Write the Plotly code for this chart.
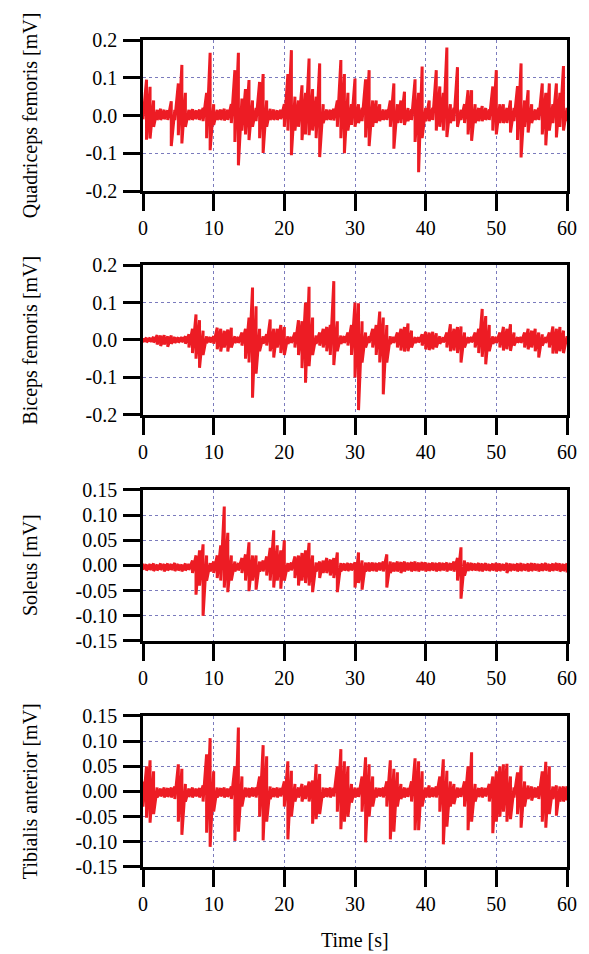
import numpy as np
import plotly.graph_objects as go

# ---------------- data (envelope of each EMG trace, sampled every 0.5 s) ----------------
TIME = np.arange(0, 60.5, 0.5)

QUAD_HI = [0.01, 0.095, 0.076, 0.04, 0.015, 0.018, 0.015, 0.014, 0.038, 0.015,
           0.085, 0.134, 0.06, 0.015, 0.017, 0.014, 0.016, 0.02, 0.06, 0.166,
           0.03, 0.015, 0.016, 0.018, 0.015, 0.03, 0.12, 0.166, 0.045, 0.07,
           0.094, 0.04, 0.02, 0.089, 0.11, 0.04, 0.018, 0.016, 0.014, 0.015,
           0.03, 0.11, 0.173, 0.05, 0.04, 0.08, 0.06, 0.151, 0.07, 0.05,
           0.138, 0.03, 0.016, 0.015, 0.018, 0.04, 0.147, 0.11, 0.06, 0.03,
           0.098, 0.03, 0.02, 0.096, 0.12, 0.04, 0.04, 0.03, 0.016, 0.015,
           0.04, 0.085, 0.03, 0.04, 0.063, 0.02, 0.016, 0.096, 0.06, 0.13,
           0.02, 0.04, 0.02, 0.12, 0.077, 0.06, 0.18, 0.03, 0.02, 0.128,
           0.015, 0.03, 0.067, 0.067, 0.03, 0.02, 0.025, 0.02, 0.016, 0.077,
           0.12, 0.03, 0.03, 0.02, 0.04, 0.02, 0.078, 0.138, 0.04, 0.067,
           0.03, 0.016, 0.02, 0.085, 0.06, 0.085, 0.03, 0.085, 0.06, 0.131,
           0.02]
QUAD_LO = [-0.01, -0.064, -0.061, -0.03, -0.012, -0.012, -0.01, -0.012, -0.081, -0.012,
           -0.052, -0.074, -0.03, -0.012, -0.012, -0.01, -0.012, -0.015, -0.06, -0.092,
           -0.025, -0.012, -0.012, -0.013, -0.012, -0.02, -0.07, -0.132, -0.04, -0.05,
           -0.065, -0.03, -0.015, -0.06, -0.099, -0.03, -0.012, -0.012, -0.012, -0.01,
           -0.03, -0.04, -0.105, -0.04, -0.03, -0.065, -0.05, -0.052, -0.04, -0.06,
           -0.11, -0.02, -0.012, -0.012, -0.013, -0.03, -0.06, -0.10, -0.04, -0.025,
           -0.03, -0.02, -0.015, -0.058, -0.081, -0.03, -0.02, -0.015, -0.012, -0.012,
           -0.03, -0.088, -0.02, -0.02, -0.025, -0.015, -0.012, -0.07, -0.15, -0.06,
           -0.015, -0.015, -0.012, -0.04, -0.03, -0.04, -0.057, -0.02, -0.015, -0.03,
           -0.012, -0.02, -0.05, -0.067, -0.02, -0.015, -0.015, -0.012, -0.012, -0.04,
           -0.05, -0.02, -0.02, -0.02, -0.045, -0.015, -0.065, -0.111, -0.03, -0.045,
           -0.02, -0.012, -0.012, -0.05, -0.079, -0.04, -0.02, -0.058, -0.03, -0.04,
           -0.015]

BICEPS_HI = [0.005, 0.006, 0.006, 0.008, 0.013, 0.012, 0.013, 0.01, 0.012, 0.008,
             0.007, 0.008, 0.01, 0.015, 0.03, 0.068, 0.053, 0.025, 0.01, 0.008,
             0.01, 0.033, 0.03, 0.025, 0.028, 0.033, 0.01, 0.008, 0.02, 0.03,
             0.06, 0.14, 0.09, 0.03, 0.01, 0.015, 0.055, 0.03, 0.03, 0.04,
             0.035, 0.01, 0.008, 0.02, 0.053, 0.05, 0.1, 0.142, 0.06, 0.012,
             0.02, 0.03, 0.035, 0.04, 0.157, 0.05, 0.012, 0.01, 0.02, 0.04,
             0.1, 0.098, 0.05, 0.02, 0.01, 0.03, 0.04, 0.076, 0.06, 0.04,
             0.01, 0.008, 0.02, 0.03, 0.035, 0.044, 0.025, 0.008, 0.007, 0.015,
             0.022, 0.02, 0.022, 0.018, 0.01, 0.007, 0.02, 0.042, 0.03, 0.035,
             0.036, 0.02, 0.008, 0.008, 0.02, 0.03, 0.083, 0.064, 0.04, 0.01,
             0.008, 0.02, 0.035, 0.03, 0.042, 0.02, 0.008, 0.008, 0.02, 0.03,
             0.025, 0.03, 0.02, 0.015, 0.008, 0.02, 0.036, 0.03, 0.035, 0.025,
             0.01]
BICEPS_LO = [-0.005, -0.006, -0.005, -0.007, -0.012, -0.016, -0.012, -0.018, -0.01, -0.008,
             -0.007, -0.006, -0.01, -0.02, -0.035, -0.05, -0.074, -0.04, -0.008, -0.007,
             -0.01, -0.025, -0.031, -0.02, -0.031, -0.02, -0.008, -0.008, -0.015, -0.05,
             -0.06, -0.154, -0.09, -0.03, -0.01, -0.015, -0.03, -0.047, -0.02, -0.035,
             -0.04, -0.01, -0.008, -0.02, -0.04, -0.075, -0.114, -0.07, -0.04, -0.01,
             -0.015, -0.02, -0.03, -0.04, -0.067, -0.03, -0.01, -0.008, -0.015, -0.04,
             -0.10, -0.187, -0.06, -0.02, -0.008, -0.02, -0.04, -0.06, -0.145, -0.06,
             -0.01, -0.008, -0.02, -0.028, -0.031, -0.03, -0.02, -0.008, -0.007, -0.015,
             -0.025, -0.027, -0.025, -0.02, -0.01, -0.007, -0.02, -0.03, -0.028, -0.035,
             -0.06, -0.02, -0.008, -0.007, -0.02, -0.035, -0.045, -0.065, -0.03, -0.01,
             -0.008, -0.02, -0.028, -0.025, -0.029, -0.015, -0.007, -0.008, -0.02, -0.025,
             -0.02, -0.03, -0.047, -0.015, -0.008, -0.02, -0.036, -0.036, -0.03, -0.035,
             -0.01]

SOLEUS_HI = [0.004, 0.002, 0.003, 0.004, 0.002, 0.004, 0.003, 0.004, 0.003, 0.005,
             0.003, 0.002, 0.004, 0.003, 0.01, 0.02, 0.03, 0.042, 0.02, 0.005,
             0.008, 0.02, 0.04, 0.117, 0.065, 0.02, 0.008, 0.005, 0.015, 0.022,
             0.046, 0.02, 0.02, 0.008, 0.01, 0.018, 0.035, 0.07, 0.04, 0.03,
             0.05, 0.005, 0.006, 0.018, 0.02, 0.025, 0.03, 0.045, 0.02, 0.006,
             0.008, 0.01, 0.015, 0.012, 0.015, 0.026, 0.005, 0.004, 0.005, 0.004,
             0.006, 0.026, 0.01, 0.006, 0.006, 0.006, 0.005, 0.006, 0.008, 0.022,
             0.008, 0.006, 0.008, 0.007, 0.008, 0.006, 0.007, 0.008, 0.006, 0.007,
             0.006, 0.005, 0.006, 0.005, 0.006, 0.005, 0.006, 0.005, 0.008, 0.015,
             0.036, 0.01, 0.006, 0.005, 0.004, 0.005, 0.004, 0.005, 0.003, 0.004,
             0.005, 0.004, 0.003, 0.005, 0.004, 0.003, 0.004, 0.005, 0.003, 0.004,
             0.005, 0.004, 0.003, 0.004, 0.005, 0.003, 0.004, 0.005, 0.004, 0.003,
             0.004]
SOLEUS_LO = [-0.008, -0.010, -0.009, -0.011, -0.010, -0.009, -0.012, -0.010, -0.009, -0.011,
             -0.010, -0.012, -0.010, -0.009, -0.015, -0.058, -0.04, -0.10, -0.03, -0.012,
             -0.015, -0.025, -0.03, -0.044, -0.053, -0.03, -0.012, -0.01, -0.015, -0.03,
             -0.051, -0.03, -0.048, -0.012, -0.012, -0.02, -0.03, -0.044, -0.03, -0.046,
             -0.03, -0.012, -0.01, -0.025, -0.04, -0.03, -0.035, -0.04, -0.053, -0.012,
             -0.025, -0.015, -0.015, -0.02, -0.025, -0.053, -0.012, -0.010, -0.011, -0.010,
             -0.044, -0.035, -0.048, -0.012, -0.012, -0.011, -0.012, -0.010, -0.012, -0.044,
             -0.015, -0.012, -0.012, -0.015, -0.012, -0.01, -0.012, -0.011, -0.012, -0.010,
             -0.012, -0.011, -0.010, -0.012, -0.011, -0.010, -0.012, -0.010, -0.012, -0.03,
             -0.066, -0.02, -0.011, -0.010, -0.010, -0.011, -0.012, -0.010, -0.011, -0.010,
             -0.012, -0.011, -0.010, -0.015, -0.011, -0.010, -0.012, -0.011, -0.010, -0.012,
             -0.011, -0.010, -0.012, -0.011, -0.010, -0.012, -0.011, -0.010, -0.012, -0.011,
             -0.014]

TIBIALIS_HI = [0.02, 0.05, 0.062, 0.04, 0.008, 0.006, 0.008, 0.007, 0.008, 0.01,
               0.054, 0.045, 0.015, 0.006, 0.008, 0.006, 0.007, 0.012, 0.074, 0.106,
               0.04, 0.008, 0.007, 0.008, 0.006, 0.01, 0.05, 0.127, 0.03, 0.008,
               0.007, 0.008, 0.008, 0.03, 0.092, 0.07, 0.01, 0.007, 0.008, 0.007,
               0.02, 0.06, 0.041, 0.015, 0.008, 0.015, 0.012, 0.02, 0.022, 0.054,
               0.035, 0.008, 0.007, 0.008, 0.007, 0.05, 0.084, 0.06, 0.05, 0.015,
               0.008, 0.007, 0.03, 0.068, 0.054, 0.03, 0.008, 0.007, 0.008, 0.02,
               0.062, 0.045, 0.038, 0.015, 0.008, 0.007, 0.02, 0.066, 0.06, 0.04,
               0.008, 0.012, 0.008, 0.01, 0.03, 0.064, 0.041, 0.02, 0.015, 0.008,
               0.007, 0.02, 0.05, 0.078, 0.015, 0.007, 0.008, 0.007, 0.015, 0.03,
               0.04, 0.05, 0.054, 0.055, 0.03, 0.008, 0.038, 0.051, 0.02, 0.012,
               0.01, 0.008, 0.01, 0.04, 0.059, 0.05, 0.01, 0.012, 0.01, 0.01,
               0.01]
TIBIALIS_LO = [-0.03, -0.052, -0.062, -0.045, -0.012, -0.010, -0.012, -0.011, -0.012, -0.015,
               -0.06, -0.086, -0.02, -0.011, -0.012, -0.010, -0.012, -0.02, -0.082, -0.11,
               -0.04, -0.012, -0.010, -0.012, -0.011, -0.015, -0.098, -0.08, -0.03, -0.011,
               -0.012, -0.010, -0.012, -0.05, -0.097, -0.06, -0.015, -0.011, -0.012, -0.010,
               -0.03, -0.095, -0.05, -0.02, -0.012, -0.02, -0.015, -0.02, -0.064, -0.055,
               -0.045, -0.012, -0.011, -0.012, -0.010, -0.04, -0.075, -0.06, -0.05, -0.022,
               -0.012, -0.011, -0.04, -0.101, -0.05, -0.03, -0.012, -0.010, -0.012, -0.03,
               -0.095, -0.08, -0.03, -0.015, -0.012, -0.011, -0.02, -0.077, -0.077, -0.03,
               -0.012, -0.012, -0.011, -0.012, -0.04, -0.105, -0.07, -0.03, -0.025, -0.012,
               -0.011, -0.03, -0.077, -0.06, -0.02, -0.011, -0.012, -0.010, -0.02, -0.083,
               -0.06, -0.05, -0.04, -0.06, -0.055, -0.012, -0.045, -0.072, -0.03, -0.015,
               -0.018, -0.012, -0.015, -0.06, -0.072, -0.045, -0.015, -0.048, -0.02, -0.02,
               -0.018]

PANEL_NAMES = ["Quadriceps femoris [mV]", "Biceps femoris [mV]",
               "Soleus [mV]", "Tibialis anterior [mV]"]
X_TICKS = [0, 10, 20, 30, 40, 50, 60]
Y_TICKS_A = [-0.2, -0.1, 0.0, 0.1, 0.2]
Y_LABELS_A = ["-0.2", "-0.1", "0.0", "0.1", "0.2"]
Y_TICKS_B = [-0.15, -0.10, -0.05, 0.0, 0.05, 0.10, 0.15]
Y_LABELS_B = ["-0.15", "-0.10", "-0.05", "0.00", "0.05", "0.10", "0.15"]
X_TITLE = "Time [s]"

# ---------------- figure ----------------
SERIES = [(QUAD_HI, QUAD_LO), (BICEPS_HI, BICEPS_LO),
          (SOLEUS_HI, SOLEUS_LO), (TIBIALIS_HI, TIBIALIS_LO)]
TICKS = [(Y_TICKS_A, Y_LABELS_A), (Y_TICKS_A, Y_LABELS_A),
         (Y_TICKS_B, Y_LABELS_B), (Y_TICKS_B, Y_LABELS_B)]
DOMAINS = [[0.8174, 1.0], [0.5466, 0.7279], [0.2733, 0.4559], [0.0, 0.1826]]

RED = "#ed1c24"
GRID = "#7b7bbd"
FONT = "Liberation Serif"

fig = go.Figure()
layout = dict(
    width=589, height=954,
    margin=dict(l=143, r=20, t=40, b=87),
    paper_bgcolor="white", plot_bgcolor="white",
    showlegend=False,
    font=dict(family=FONT, size=20, color="black"),
)
annotations = []

for k, ((hi, lo), (tv, tt), dom) in enumerate(zip(SERIES, TICKS, DOMAINS)):
    n = k + 1
    hi = np.asarray(hi)
    lo = np.asarray(lo)
    # oscillating raw trace: each sample drawn from its positive to its negative excursion
    xs = np.repeat(TIME, 2)
    ys = np.empty(2 * len(TIME))
    ys[0::2] = hi
    ys[1::2] = lo
    fig.add_trace(go.Scatter(
        x=xs, y=ys, mode="lines",
        line=dict(color=RED, width=3),
        xaxis=f"x{n}", yaxis=f"y{n}", hoverinfo="skip",
    ))
    xname = "xaxis" if n == 1 else f"xaxis{n}"
    yname = "yaxis" if n == 1 else f"yaxis{n}"
    common = dict(
        showline=True, linecolor="black", linewidth=2.5, mirror=True,
        ticks="outside", ticklen=17, tickwidth=2.5, tickcolor="black",
        showgrid=True, gridcolor=GRID, gridwidth=1, griddash="dot",
        zeroline=False,
        tickfont=dict(family=FONT, size=20, color="black"),
    )
    layout[xname] = dict(
        common, domain=[0, 1], range=[0, 60], anchor=f"y{n}",
        tickmode="array", tickvals=X_TICKS,
        ticktext=[str(v) for v in X_TICKS], ticklabelstandoff=0,
    )
    layout[yname] = dict(
        common, domain=dom, range=[tv[0], tv[-1]], anchor=f"x{n}",
        tickmode="array", tickvals=tv, ticktext=tt, ticklabelstandoff=2,
    )
    annotations.append(dict(
        text=PANEL_NAMES[k], textangle=-90, showarrow=False,
        xref="paper", yref="paper", x=-0.265, y=(dom[0] + dom[1]) / 2,
        xanchor="center", yanchor="middle",
        font=dict(family=FONT, size=20, color="black"),
    ))

annotations.append(dict(
    text=X_TITLE, showarrow=False, xref="paper", yref="paper",
    x=0.5, y=-0.088, xanchor="center", yanchor="middle",
    font=dict(family=FONT, size=20, color="black"),
))
layout["annotations"] = annotations
fig.update_layout(**layout)

# the page fills the window exactly: no body margin, no scrollbars, no modebar
fig.write_html(
    "out.html",
    config={"displayModeBar": False},
    post_script="document.body.style.margin='0';document.body.style.overflow='hidden';",
)
